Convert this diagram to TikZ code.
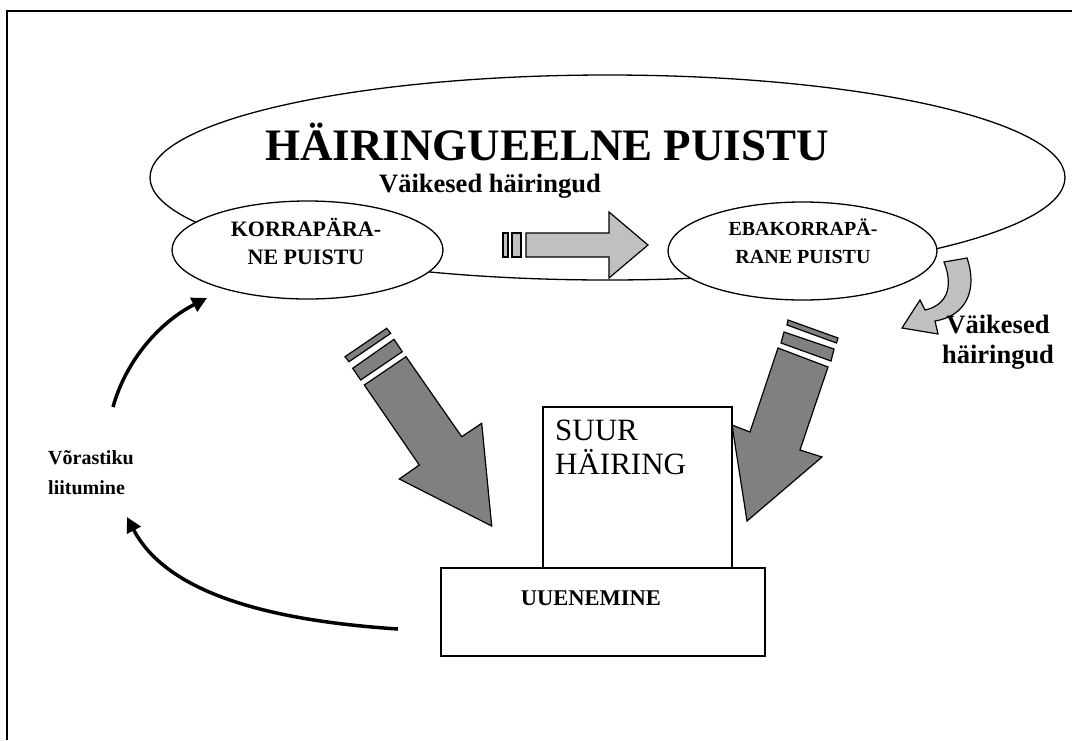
\documentclass[tikz,border=0pt]{standalone}
\usepackage{fontspec}
\setmainfont{Liberation Serif}
\usetikzlibrary{arrows.meta,shapes.geometric}
\definecolor{darkarrow}{HTML}{808080}
\definecolor{lightarrow}{HTML}{C0C0C0}
\begin{document}
\begin{tikzpicture}[x=1pt,y=-1pt,
  oval/.style={draw=black, line width=1.3pt, ellipse, fill=white, inner sep=0pt},
  boxed/.style={draw=black, line width=1.3pt, fill=white},
  bigarrow/.style={draw=black, line width=1.2pt, fill=darkarrow, line join=miter},
  smallarrow/.style={draw=black, line width=1.2pt, fill=lightarrow, line join=miter},
  curvearrow/.style={line width=3.5pt, -{Triangle[length=15pt,width=15pt]}},
  boldlbl/.style={font=\bfseries, inner sep=0pt, align=center},
]
\useasboundingbox (0,0) rectangle (1072,740);
% frame
\draw[line width=1.6pt] (7,740) -- (7,11) -- (1072,11);

% big ellipse
\node[oval, minimum width=915pt, minimum height=205pt] (big) at (607.5,177.5) {};
\node[boldlbl, font=\bfseries\fontsize{45}{50}\selectfont] (title) at (547,142) {HÄIRINGUEELNE PUISTU};
\node[boldlbl, font=\bfseries\fontsize{26.5}{30}\selectfont] (smalltop) at (490,186) {Väikesed häiringud};

% small curved gray arrow (behind right ellipse)
\draw[smallarrow] (967,258) .. controls (978,290) and (966,316) .. (935,321)
  -- (938,334) -- (902,328) -- (920,300) -- (925,310)
  .. controls (944,306) and (955,290) .. (944,262) -- cycle;

% small ellipses
\node[oval, minimum width=271pt, minimum height=98pt] (regular) at (307.5,250) {};
\node[boldlbl, font=\bfseries\fontsize{22}{28}\selectfont] (regtext) at (306,241) {KORRAPÄRA-\\NE PUISTU};
\node[oval, minimum width=269pt, minimum height=98pt] (irregular) at (802.5,251) {};
\node[boldlbl, font=\bfseries\fontsize{20}{28}\selectfont] (irrtext) at (803,241) {EBAKORRAPÄ-\\RANE PUISTU};

% horizontal light arrow
\draw[smallarrow] (503,233) rectangle (508,257);
\draw[smallarrow] (512,233) rectangle (521,257);
\draw[smallarrow] (526,233) -- (609,233) -- (609,212) -- (648,245) -- (609,278) -- (609,257) -- (526,257) -- cycle;

% boxes
\node[boxed, minimum width=189pt, minimum height=171pt, inner sep=0pt] (suur) at (637.5,492.5) {};
\node[font=\fontsize{31}{34}\selectfont, align=left, anchor=north west, inner sep=0pt] (suurtext) at (555,420) {SUUR\\HÄIRING};
\node[boxed, minimum width=324pt, minimum height=88pt, inner sep=0pt] (uue) at (603,612) {};
\node[boldlbl, font=\bfseries\fontsize{22.5}{26}\selectfont] (uuetext) at (591,598) {UUENEMINE};

% left big dark arrow
\draw[bigarrow] (345,356.7) -- (386.7,328.3) -- (390.7,333.3) -- (349,361.7) -- cycle;
\draw[bigarrow] (352.7,368.3) -- (394,339.3) -- (402.3,351.7) -- (360.7,380) -- cycle;
\draw[bigarrow] (364.3,385) -- (406,356.7) -- (461.7,436.7) -- (481.7,423.3) -- (491.7,526)
  -- (399.3,479) -- (419.3,465) -- cycle;

% right big dark arrow
\draw[bigarrow] (788,320) -- (838,338) -- (836.5,343) -- (787,325) -- cycle;
\draw[bigarrow] (784,332) -- (834,349) -- (831,361) -- (781,343) -- cycle;
\draw[bigarrow] (778,348) -- (828,367) -- (800,450) -- (822,457) -- (747,521)
  -- (732,425) -- (750,432) -- cycle;

% right label
\node[boldlbl, font=\bfseries\fontsize{26.5}{30}\selectfont] (smallright) at (998,342) {Väikesed\\häiringud};

% left label and curved arrows
\node[font=\bfseries\fontsize{20}{30}\selectfont, align=left, anchor=west, inner sep=0pt] (merge) at (48,473) {Võrastiku\\liitumine};
\coordinate (upstart) at (113,407);
\coordinate (upend) at (207,298);
\coordinate (lowstart) at (398,629);
\coordinate (lowend) at (127,517);
\draw[curvearrow] (upstart) .. controls (126,360) and (160,322) .. (upend);
\draw[curvearrow] (lowstart) .. controls (260,620) and (165,590) .. (lowend);
\end{tikzpicture}
\end{document}
